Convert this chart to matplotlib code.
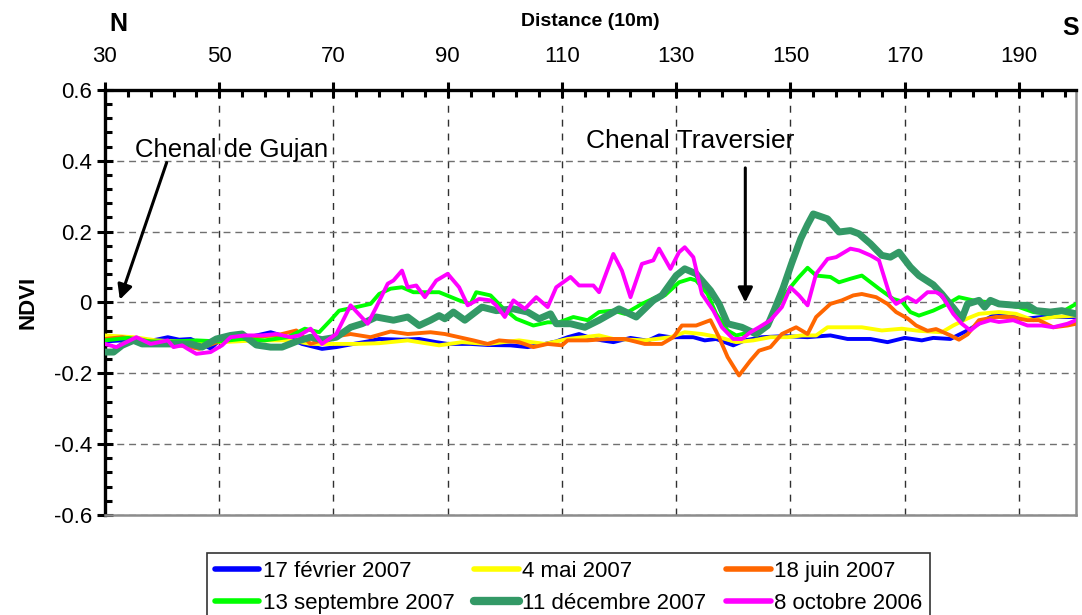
import matplotlib
matplotlib.use("Agg")
import matplotlib.pyplot as plt
from matplotlib.ticker import FixedLocator, AutoMinorLocator
import numpy as np

plt.rcParams['font.family'] = ['Liberation Sans', 'DejaVu Sans']

# ========== 数据 ==========
LABELS = ["17 février 2007", "4 mai 2007", "18 juin 2007",
          "13 septembre 2007", "11 décembre 2007", "8 octobre 2006"]
COLORS = ["#0000FF", "#FFFF00", "#FF6600", "#00FF00", "#339966", "#FF00FF"]

dist_fev = [30, 33, 36, 39, 41, 43, 45, 47, 48.5, 50.5, 53, 56, 59, 62, 64.5, 68, 70.5, 73.5,
            76, 78, 82, 85, 88, 90, 94, 97, 101, 104, 107, 109, 111, 113, 115, 117, 119, 122,
            125, 127, 129, 133, 135, 137, 140, 142, 145, 149, 153, 157, 160, 164, 167, 170,
            173, 175, 178, 181, 184, 186, 189, 191, 194, 197, 200]
ndvi_fev = [-0.11, -0.107, -0.112, -0.105, -0.098, -0.105, -0.103, -0.118, -0.13, -0.1,
            -0.103, -0.095, -0.084, -0.098, -0.117, -0.131, -0.126, -0.117, -0.11, -0.103,
            -0.105, -0.103, -0.112, -0.117, -0.117, -0.12, -0.121, -0.126, -0.117, -0.11,
            -0.098, -0.089, -0.1, -0.107, -0.112, -0.1, -0.108, -0.093, -0.098, -0.098,
            -0.107, -0.103, -0.121, -0.107, -0.098, -0.095, -0.098, -0.093, -0.103, -0.103,
            -0.112, -0.1, -0.107, -0.1, -0.103, -0.079, -0.05, -0.032, -0.035, -0.046,
            -0.041, -0.041, -0.041]

dist_mai = [30, 35, 39, 45, 50.5, 56.5, 62.5, 66, 68, 74, 78, 83, 88.5, 92.5, 97, 102.5,
            107, 111, 116.5, 119, 124.5, 129, 131.5, 134.5, 137.5, 140.5, 143.5, 146.5,
            149.5, 152, 154.5, 156.5, 159, 162.5, 166, 169.5, 172.5, 176.5, 178.5, 181,
            183, 186.5, 189.5, 192.5, 196, 200]
ndvi_mai = [-0.093, -0.098, -0.107, -0.112, -0.112, -0.107, -0.107, -0.117, -0.117, -0.117,
            -0.115, -0.107, -0.121, -0.112, -0.117, -0.107, -0.117, -0.103, -0.093, -0.103,
            -0.107, -0.098, -0.084, -0.089, -0.098, -0.112, -0.107, -0.098, -0.098, -0.093,
            -0.093, -0.07, -0.07, -0.07, -0.079, -0.074, -0.08, -0.084, -0.065, -0.045,
            -0.032, -0.027, -0.032, -0.05, -0.041, -0.037]

dist_juin = [30, 33, 36.5, 42, 46.5, 50.5, 54.5, 60, 63.5, 66, 69.5, 73, 76.5, 80, 83, 87,
             89.5, 92, 94.5, 97, 99, 102.5, 105, 107.5, 110, 111, 114.5, 118, 121, 124.5,
             127.5, 129.5, 131, 133.5, 136, 137.5, 139, 141, 143, 144.5, 146.5, 148.5,
             151, 153, 154.5, 157, 159, 161, 162.5, 165, 167, 168.5, 170.5, 172, 174, 175.5,
             178, 179.5, 181, 183, 186, 188.5, 191.5, 193.5, 196, 198.5, 200]
ndvi_juin = [-0.103, -0.098, -0.107, -0.117, -0.131, -0.107, -0.098, -0.093, -0.079, -0.117,
             -0.098, -0.089, -0.098, -0.082, -0.089, -0.084, -0.089, -0.098, -0.107, -0.117,
             -0.107, -0.112, -0.126, -0.117, -0.121, -0.107, -0.107, -0.103, -0.103, -0.117,
             -0.117, -0.098, -0.065, -0.065, -0.05, -0.098, -0.154, -0.206, -0.164, -0.136,
             -0.126, -0.089, -0.07, -0.089, -0.041, -0.004, 0.006, 0.02, 0.024, 0.015, -0.004,
             -0.027, -0.045, -0.065, -0.08, -0.075, -0.093, -0.105, -0.09, -0.05, -0.041,
             -0.041, -0.05, -0.05, -0.07, -0.065, -0.06]

dist_sept = [30, 34, 38, 42, 46, 50, 54, 58, 62, 65, 67.5, 69.5, 71, 74, 76.5, 78, 80, 82,
             84, 88.5, 92, 94, 95, 97.5, 99.5, 102, 105, 107.5, 109.5, 112, 114.5, 116.5,
             119, 121, 124, 126.5, 128, 130.5, 132.5, 133.5, 135.5, 137, 139, 140.5, 143,
             144.5, 146.5, 148, 150, 151.5, 153, 154.5, 157, 158.5, 160.5, 162.5, 165.5,
             168, 169.5, 171, 172.5, 175, 177.5, 179.5, 182, 184.5, 186.5, 190, 192.5, 195,
             197.5, 200]
ndvi_sept = [-0.107, -0.1, -0.11, -0.11, -0.107, -0.11, -0.103, -0.107, -0.098, -0.074,
             -0.084, -0.05, -0.023, -0.013, -0.004, 0.024, 0.039, 0.043, 0.029, 0.029, 0.006,
             -0.004, 0.029, 0.02, -0.013, -0.046, -0.065, -0.056, -0.056, -0.041, -0.05,
             -0.027, -0.023, -0.032, -0.004, 0.015, 0.02, 0.057, 0.067, 0.062, 0.024, -0.032,
             -0.079, -0.093, -0.084, -0.079, -0.05, -0.004, 0.043, 0.072, 0.098, 0.076,
             0.072, 0.057, 0.067, 0.076, 0.039, 0.01, 0.003, -0.027, -0.037, -0.023, -0.004,
             0.015, 0.006, 0.001, -0.004, -0.013, -0.027, -0.032, -0.027, -0.004]

dist_dec = [30, 31.5, 33, 35, 36.5, 39, 42.5, 45, 47, 49.5, 52, 54, 56.5, 59, 61, 63.5, 66,
            68, 70.5, 73, 75, 77.5, 80.5, 83, 85, 87, 88.5, 89.5, 91, 93, 96, 98.5, 101.5,
            104, 106, 108, 109, 111.5, 114, 116.5, 120, 123, 126, 127.5, 130, 131.5, 133.5,
            136, 137.5, 139, 141.5, 144, 146, 147.2, 148.7, 150.2, 151.8, 153, 154, 156.5,
            158.5, 160.5, 162, 164, 166, 167.5, 169, 171, 172.5, 175, 176.5, 178.5, 180,
            181, 183, 184, 185, 186.5, 189.5, 191.5, 193, 195.5, 197.5, 200]
ndvi_dec = [-0.14, -0.14, -0.121, -0.107, -0.117, -0.117, -0.117, -0.117, -0.126, -0.103,
            -0.093, -0.089, -0.12, -0.126, -0.126, -0.11, -0.098, -0.105, -0.098, -0.07,
            -0.06, -0.041, -0.05, -0.041, -0.065, -0.05, -0.037, -0.046, -0.027, -0.05,
            -0.013, -0.023, -0.018, -0.027, -0.046, -0.032, -0.06, -0.06, -0.07, -0.05,
            -0.018, -0.041, 0.006, 0.02, 0.076, 0.095, 0.081, 0.034, -0.004, -0.06, -0.07,
            -0.089, -0.065, -0.02, 0.04, 0.11, 0.18, 0.22, 0.25, 0.236, 0.199, 0.203, 0.194,
            0.166, 0.133, 0.128, 0.142, 0.1, 0.076, 0.05, 0.024, -0.015, -0.046, -0.004,
            0.006, -0.013, 0.006, -0.004, -0.008, -0.008, -0.023, -0.027, -0.023, -0.032]

dist_oct = [30, 32, 35.5, 38, 41, 42, 43.5, 44.5, 46, 48.5, 50.5, 52, 54.5, 57.5, 60, 62.5,
            64, 66, 68, 70.5, 73, 76, 77.5, 79.5, 80.5, 82, 83, 84.5, 86, 88, 90, 92, 93.5,
            95.5, 97.5, 98.5, 100, 101.5, 103.5, 105.5, 107.5, 109, 111.5, 113, 115.5,
            116.5, 119, 120.5, 122, 124, 126, 127, 129, 130.5, 131.5, 133, 134.5, 136.5,
            138, 140, 141.5, 143, 144.5, 146.5, 148.5, 150, 151.5, 153, 154.5, 156.5, 158,
            160.5, 162, 164, 165.5, 167.5, 168.5, 170.5, 172, 174, 175.5, 176.5, 178.5,
            180, 181.5, 183, 185, 186.5, 189, 191.5, 194, 196, 198.5, 200]
ndvi_oct = [-0.117, -0.126, -0.098, -0.117, -0.107, -0.126, -0.121, -0.131, -0.145, -0.14,
            -0.121, -0.098, -0.093, -0.093, -0.089, -0.098, -0.093, -0.074, -0.117, -0.089,
            -0.008, -0.06, -0.013, 0.053, 0.062, 0.09, 0.043, 0.048, 0.015, 0.062, 0.081,
            0.043, -0.008, 0.01, 0.006, -0.008, -0.041, 0.006, -0.018, 0.015, -0.013, 0.043,
            0.072, 0.048, 0.048, 0.029, 0.137, 0.09, 0.015, 0.109, 0.119, 0.152, 0.095,
            0.142, 0.156, 0.128, 0.024, -0.023, -0.07, -0.103, -0.103, -0.084, -0.07, -0.05,
            -0.013, 0.043, 0.02, -0.008, 0.081, 0.123, 0.128, 0.152, 0.147, 0.133, 0.119,
            0.015, -0.004, 0.015, 0.001, 0.029, 0.029, 0.02, -0.032, -0.06, -0.079, -0.06,
            -0.05, -0.055, -0.05, -0.065, -0.065, -0.07, -0.06, -0.05]

SERIES = [(dist_fev, ndvi_fev), (dist_mai, ndvi_mai), (dist_juin, ndvi_juin),
          (dist_sept, ndvi_sept), (dist_dec, ndvi_dec), (dist_oct, ndvi_oct)]
WIDTHS = [2.8, 2.8, 2.8, 2.8, 5.0, 2.8]

# ========== 绘图 ==========
fig = plt.figure(figsize=(10.82, 6.15), dpi=100)
ax = fig.add_axes([0.097, 0.1626, 0.8975, 0.6911])

lines = []
for (d, v), c, w, lab in zip(SERIES, COLORS, WIDTHS, LABELS):
    ln, = ax.plot(d, v, color=c, lw=w, label=lab, solid_capstyle='round',
                  solid_joinstyle='round', zorder=3)
    lines.append(ln)

ax.set_xlim(30, 200)
ax.set_ylim(-0.6, 0.6)

# 坐标轴放在上方
ax.xaxis.tick_top()
ax.set_xticks(np.arange(30, 191, 20))
ax.xaxis.set_minor_locator(FixedLocator(np.arange(30, 200, 4)))
ax.set_yticks([-0.6, -0.4, -0.2, 0, 0.2, 0.4, 0.6],
              labels=["-0.6", "-0.4", "-0.2", "0", "0.2", "0.4", "0.6"])
ax.yaxis.set_minor_locator(AutoMinorLocator(5))

ax.tick_params(which='major', direction='inout', length=11, width=2.2, labelsize=16,
               color='black')
ax.tick_params(axis='x', which='major', pad=11)
ax.tick_params(axis='y', which='major', pad=4)
ax.tick_params(which='minor', direction='in', length=5, width=2.2, color='black')
ax.tick_params(top=True, bottom=False, left=True, right=False, which='both')

for s in ['left', 'top']:
    ax.spines[s].set_linewidth(2.4)
    ax.spines[s].set_color('black')
for s in ['right', 'bottom']:
    ax.spines[s].set_linewidth(1.8)
    ax.spines[s].set_color('#8c8c8c')

# 网格线
ax.yaxis.grid(True, which='major', color='#707070', lw=1.0, dashes=(5, 3.5))
ax.xaxis.grid(True, which='major', color='#303030', lw=1.0, dashes=(5, 5))
ax.set_axisbelow(True)

# 标注
ax.annotate("", xy=(32.6, 0.008), xytext=(40.8, 0.395),
            arrowprops=dict(arrowstyle='-|>', lw=2.2, color='black', mutation_scale=22,
                            shrinkA=0, shrinkB=0))
ax.text(52.2, 0.43, "Chenal de Gujan", fontsize=18.5, ha='center', va='center')
ax.annotate("", xy=(142.1, 0.0), xytext=(142.1, 0.38),
            arrowprops=dict(arrowstyle='-|>', lw=2.2, color='black', mutation_scale=22,
                            shrinkA=0, shrinkB=0))
ax.text(132.4, 0.457, "Chenal Traversier", fontsize=19, ha='center', va='center')

fig.text(590 / 1082, 1 - 21 / 615, "Distance (10m)", fontsize=14, fontweight='bold',
         ha='center', va='center')
fig.text(118 / 1082, 1 - 24 / 615, "N", fontsize=18, fontweight='bold',
         ha='center', va='center')
fig.text(1071 / 1082, 1 - 28 / 615, "S", fontsize=18, fontweight='bold',
         ha='center', va='center')
fig.text(28 / 1082, 1 - 302 / 615, "NDVI", fontsize=16, fontweight='bold',
         ha='center', va='center', rotation=90)

# 图例：按行排列
order = [0, 3, 1, 4, 2, 5]
leg = fig.legend([lines[i] for i in order], [LABELS[i] for i in order], ncol=3,
                 loc='upper left', bbox_to_anchor=(207 / 1082, 1 - 553 / 615),
                 fontsize=16, frameon=True, fancybox=False, edgecolor='black',
                 handlelength=2.0, handletextpad=0.15, columnspacing=0.9,
                 labelspacing=0.5, borderpad=0.35, borderaxespad=0)
leg.get_frame().set_linewidth(1.2)
for h in leg.legend_handles:
    h.set_linewidth(4 if h.get_color() != "#339966" else 6)

fig.savefig("out.png", dpi=100)
